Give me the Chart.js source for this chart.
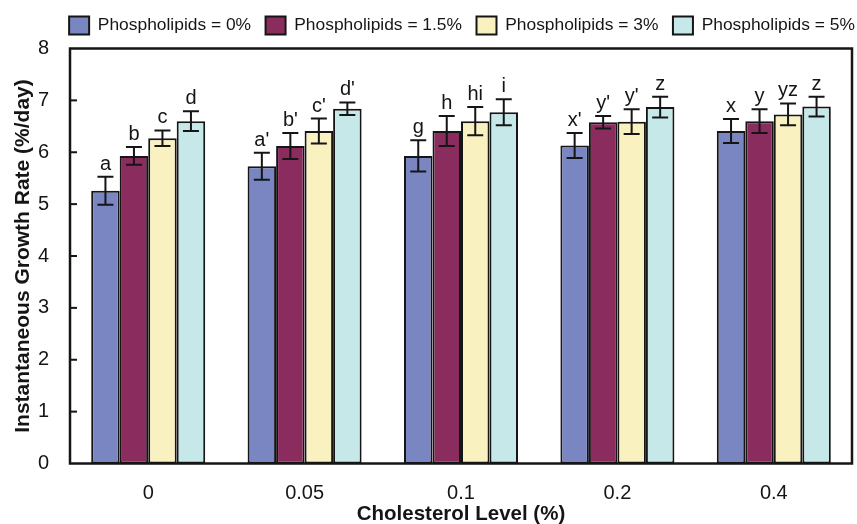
<!DOCTYPE html>
<html>
<head>
<meta charset="utf-8">
<script src="https://cdn.jsdelivr.net/npm/chart.js@4.4.1/dist/chart.umd.min.js"></script>
<style>
  html, body { margin: 0; padding: 0; background: #ffffff; }
  #wrap { width: 857px; height: 524px; position: relative; }
</style>
</head>
<body>
<div id="wrap"><canvas id="c"></canvas></div>
<script>
const categories = ['0', '0.05', '0.1', '0.2', '0.4'];
const seriesNames = ['Phospholipids = 0%', 'Phospholipids = 1.5%', 'Phospholipids = 3%', 'Phospholipids = 5%'];

const p0   = [5.26, 5.73, 5.93, 6.13, 6.41];
const p1_5 = [5.93, 6.12, 6.41, 6.58, 6.60];
const p3   = [6.27, 6.41, 6.60, 6.59, 6.73];
const p5   = [6.60, 6.84, 6.77, 6.87, 6.88];

const err0   = [0.27, 0.26, 0.30, 0.24, 0.23];
const err1_5 = [0.17, 0.25, 0.29, 0.12, 0.23];
const err3   = [0.15, 0.24, 0.27, 0.24, 0.21];
const err5   = [0.19, 0.12, 0.25, 0.20, 0.19];

const lab0   = ['a', "a'", 'g', "x'", 'x'];
const lab1_5 = ['b', "b'", 'h', "y'", 'y'];
const lab3   = ['c', "c'", 'hi', "y'", 'yz'];
const lab5   = ['d', "d'", 'i', 'z', 'z'];

const yMin = 0, yMax = 8, yStep = 1;

const colors = ['#7A86C2', '#8B2C5F', '#FAF1C0', '#C6E8E8'];
const INK = '#151515';
const FONT = "'Liberation Sans', Arial, Helvetica, sans-serif";

const values = [p0, p1_5, p3, p5];
const errors = [err0, err1_5, err3, err5];
const letters = [lab0, lab1_5, lab3, lab5];

const datasets = values.map((v, i) => ({
  label: seriesNames[i],
  data: v,
  errors: errors[i],
  letters: letters[i],
  backgroundColor: colors[i],
  borderColor: INK,
  borderWidth: 2,
  borderSkipped: false,
  categoryPercentage: 0.729,
  barPercentage: 1.0
}));

const decorPlugin = {
  id: 'decor',
  afterLayout(chart) {
    const lg = chart.legend;
    if (lg) { lg.left += 36; lg.right += 36; lg.top -= 4; lg.bottom -= 4; }
  },
  afterDatasetsDraw(chart) {
    const ctx = chart.ctx;
    const y = chart.scales.y;
    const a = chart.chartArea;
    ctx.save();
    ctx.strokeStyle = INK;
    ctx.lineWidth = 2.5;
    ctx.strokeRect(a.left, a.top, a.right - a.left, a.bottom - a.top);
    ctx.lineWidth = 2;
    for (let v = yMin + yStep; v < yMax; v += yStep) {
      const py = y.getPixelForValue(v);
      ctx.beginPath();
      ctx.moveTo(a.left, py);
      ctx.lineTo(a.left + 7, py);
      ctx.stroke();
    }
    chart.data.datasets.forEach((ds, di) => {
      const meta = chart.getDatasetMeta(di);
      meta.data.forEach((bar, i) => {
        const v = ds.data[i], e = ds.errors[i];
        const x = bar.x;
        const yt = y.getPixelForValue(v + e);
        const yb = y.getPixelForValue(v - e);
        const cap = 8;
        ctx.strokeStyle = INK;
        ctx.lineWidth = 2;
        ctx.beginPath();
        ctx.moveTo(x, yt); ctx.lineTo(x, yb);
        ctx.moveTo(x - cap, yt); ctx.lineTo(x + cap, yt);
        ctx.moveTo(x - cap, yb); ctx.lineTo(x + cap, yb);
        ctx.stroke();
        ctx.fillStyle = INK;
        ctx.font = "20px " + FONT;
        ctx.textAlign = 'center';
        ctx.textBaseline = 'alphabetic';
        ctx.fillText(ds.letters[i], x, yt - 7);
      });
    });
    ctx.restore();
  }
};

new Chart(document.getElementById('c'), {
  type: 'bar',
  data: { labels: categories, datasets },
  options: {
    responsive: true,
    maintainAspectRatio: false,
    animation: false,
    layout: { padding: { left: 0, right: 5, top: 0, bottom: 0 } },
    plugins: {
      tooltip: { enabled: false },
      legend: {
        display: true,
        position: 'top',
        align: 'center',
        labels: {
          boxWidth: 20,
          boxHeight: 18,
          padding: 14.5,
          color: INK,
          font: { family: FONT, size: 17.4 }
        }
      }
    },
    scales: {
      x: {
        grid: { display: false },
        border: { display: false },
        ticks: { color: INK, font: { family: FONT, size: 20 }, padding: 10 },
        title: {
          display: true,
          text: 'Cholesterol Level (%)',
          color: INK,
          font: { family: FONT, size: 20.5, weight: 'bold', lineHeight: 1 },
          padding: { top: 0, bottom: -1 }
        },
        afterFit(scale) { scale.height = 60.5; }
      },
      y: {
        min: yMin,
        max: yMax,
        grid: { display: false },
        border: { display: false },
        ticks: { stepSize: yStep, color: INK, font: { family: FONT, size: 20 }, padding: 13 },
        title: {
          display: true,
          text: 'Instantaneous Growth Rate (%/day)',
          color: INK,
          font: { family: FONT, size: 21, weight: 'bold', lineHeight: 1 },
          padding: { top: 13, bottom: 0 }
        },
        afterFit(scale) { scale.width = 70; scale.paddingTop = 48.5; }
      }
    }
  },
  plugins: [decorPlugin]
});
</script>
</body>
</html>
